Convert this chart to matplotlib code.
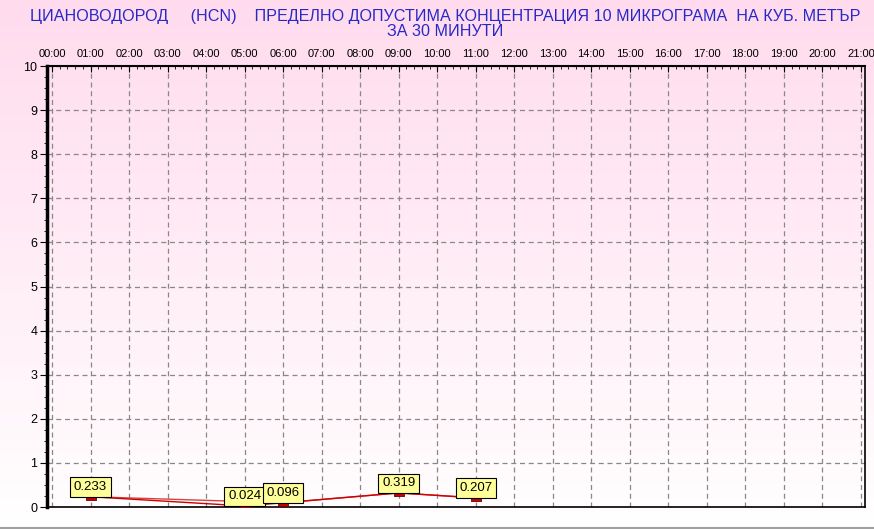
import numpy as np
import matplotlib
matplotlib.use("Agg")
import matplotlib.pyplot as plt
from matplotlib.ticker import MultipleLocator, FixedLocator
from matplotlib.path import Path
from matplotlib import font_manager

hours = [1, 5, 6, 9, 11]
values = [0.233, 0.024, 0.096, 0.319, 0.207]
value_labels = ["0.233", "0.024", "0.096", "0.319", "0.207"]
hours2 = [1, 6, 9, 11]
values2 = [0.233, 0.096, 0.319, 0.207]
tick_hours = list(range(22))
tick_labels = [f"{h:02d}:00" for h in tick_hours]
y_ticks = list(range(11))
title1 = "ЦИАНОВОДОРОД     (HCN)    ПРЕДЕЛНО ДОПУСТИМА КОНЦЕНТРАЦИЯ 10 МИКРОГРАМА  НА КУБ. МЕТЪР"
title2 = "ЗА 30 МИНУТИ"

names = {f.name for f in font_manager.fontManager.ttflist}
narrow = "Liberation Sans Narrow" if "Liberation Sans Narrow" in names else "Liberation Sans"
plt.rcParams['font.family'] = ['Liberation Sans', 'DejaVu Sans']

W, H = 874, 529
fig = plt.figure(figsize=(W/100, H/100), dpi=100)

# background gradient
bg = fig.add_axes([0, 0, 1, 1], zorder=-10)
grad = np.linspace(0, 1, 256).reshape(-1, 1)
top = np.array([1.0, 0.86, 0.93])
bot = np.array([1.0, 1.0, 1.0])
img = top[None, None, :] * (1 - grad[:, :, None]) + bot[None, None, :] * grad[:, :, None]
bg.imshow(img, aspect='auto', extent=[0, 1, 0, 1], origin='upper')
bg.set_xlim(0, 1); bg.set_ylim(0, 1)
bg.axis('off')
bg.axhline(1.5/H, color='#a0a0a0', lw=1.5)

L, R, T, B = 47, 865, 66, 507
ax = fig.add_axes([L/W, 1 - B/H, (R-L)/W, (B-T)/H])
ax.patch.set_alpha(0)
px = (861-52)/21.0
ax.set_xlim(0 - (52-L)/px, 21 + (R-861)/px)
ax.set_ylim(0, 10)

ax.grid(True, color='#888888', linestyle=(0, (4, 3)), linewidth=0.9)
ax.xaxis.set_major_locator(FixedLocator(tick_hours))
ax.set_xticklabels(tick_labels)
ax.yaxis.set_major_locator(FixedLocator(y_ticks))
ax.yaxis.set_minor_locator(MultipleLocator(0.25))
ax.xaxis.set_minor_locator(MultipleLocator(0.2))
ax.xaxis.tick_top()
ax.tick_params(axis='x', which='major', labelsize=8, length=4, pad=5, colors='black', direction='in')
ax.tick_params(axis='x', which='minor', length=2, direction='in', top=True, bottom=False)
ax.tick_params(axis='y', which='major', labelsize=9, length=5, pad=2, direction='out')
ax.tick_params(axis='y', which='minor', length=2, direction='out')

ax.spines['left'].set_linewidth(2.5)
ax.spines['right'].set_linewidth(1.2)
ax.spines['top'].set_linewidth(1.5)
ax.spines['top'].set_linestyle((0, (3, 1)))
ax.spines['bottom'].set_linewidth(1.2)
ax.spines['bottom'].set_linestyle((0, (2, 1)))

rect = Path([(-1, -0.55), (1, -0.55), (1, 0.55), (-1, 0.55), (-1, -0.55)],
            [Path.MOVETO, Path.LINETO, Path.LINETO, Path.LINETO, Path.CLOSEPOLY])

ax.plot(hours2, values2, color='#d84040', lw=1.0, zorder=3)
ax.plot(hours, values, color='#cc0000', lw=1.0, zorder=3)
ax.plot(hours, values, linestyle='none', marker=rect, markersize=7,
        markerfacecolor='#cc0000', markeredgecolor='#700000', markeredgewidth=0.6, zorder=4)

for h, v, lab in zip(hours, values, value_labels):
    ax.annotate(lab, (h, v), xytext=(0, 7), textcoords='offset points',
                ha='center', va='center', fontsize=9.5, zorder=5,
                bbox=dict(boxstyle='square,pad=0.28', fc='#ffff99', ec='black', lw=0.8))

fig.text(445/W, 1 - 16/H, title1, ha='center', va='center', fontsize=11.6,
         color='#2828c8', family=[narrow, 'DejaVu Sans'])
fig.text(445/W, 1 - 32/H, title2, ha='center', va='center', fontsize=11.6,
         color='#2828c8', family=[narrow, 'DejaVu Sans'])

fig.savefig('out.png', dpi=100)
